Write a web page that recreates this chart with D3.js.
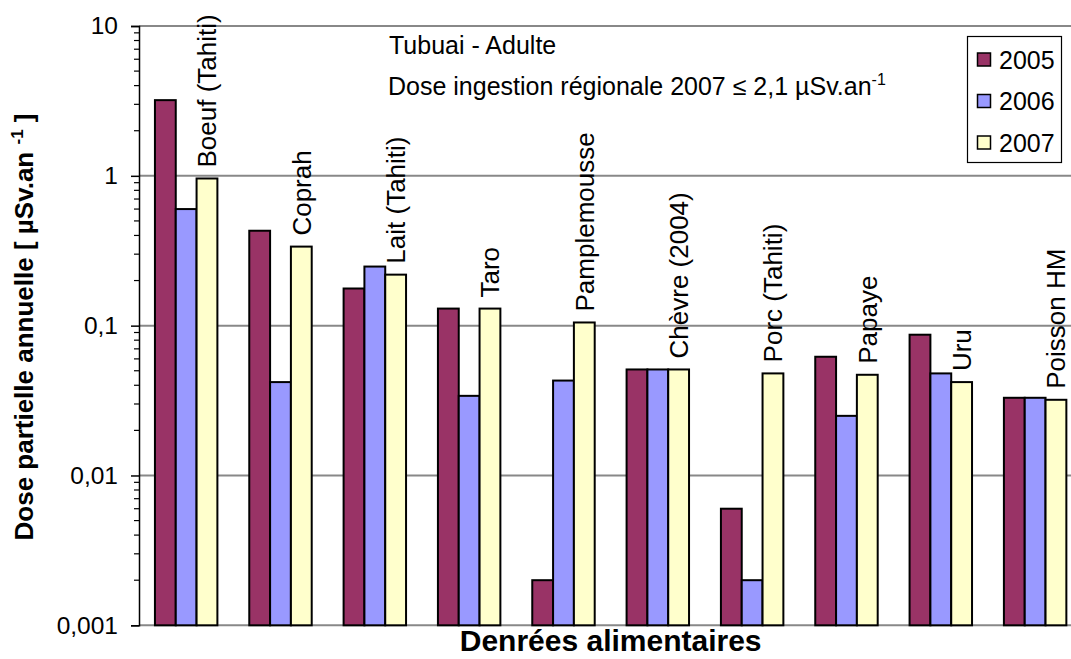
<!DOCTYPE html>
<html>
<head>
<meta charset="utf-8">
<script src="https://cdn.jsdelivr.net/npm/d3@7"></script>
<style>
  html, body { margin: 0; padding: 0; background: #fff; }
  svg { display: block; font-family: Arial, "Liberation Sans", sans-serif; }
</style>
</head>
<body>
<svg id="chart" width="1071" height="659"></svg>
<script>
const categories = ["Boeuf (Tahiti)", "Coprah", "Lait (Tahiti)", "Taro", "Pamplemousse", "Chèvre (2004)", "Porc (Tahiti)", "Papaye", "Uru", "Poisson HM"];
const seriesNames = ["2005", "2006", "2007"];
const values2005 = [3.2, 0.43, 0.177, 0.13, 0.002, 0.051, 0.006, 0.062, 0.087, 0.033];
const values2006 = [0.6, 0.042, 0.248, 0.034, 0.043, 0.051, 0.002, 0.025, 0.048, 0.033];
const values2007 = [0.96, 0.337, 0.219, 0.13, 0.105, 0.051, 0.048, 0.047, 0.042, 0.032];
const seriesColors = ["#993366", "#9999FF", "#FFFFCC"];
const yTickValues = [0.001, 0.01, 0.1, 1, 10];
const yTickLabels = ["0,001", "0,01", "0,1", "1", "10"];

const series = [values2005, values2006, values2007];
const svg = d3.select("#chart");

const plotLeft = 139, plotRight = 1082.3, plotTop = 26, plotBottom = 625.3;

const x = d3.scaleBand().domain(categories).range([plotLeft, plotRight])
  .paddingInner(0.338).paddingOuter(0.169);
const xs = d3.scaleBand().domain(seriesNames).range([0, x.bandwidth()]);
const y = d3.scaleLog().domain([0.001, 10]).range([plotBottom, plotTop]);

// gridlines
const grid = svg.append("g");
grid.selectAll("line").data(yTickValues).join("line")
  .attr("x1", plotLeft).attr("x2", 1071)
  .attr("y1", d => y(d)).attr("y2", d => y(d))
  .attr("stroke", "#888").attr("stroke-width", 2);

// bars
const groups = svg.append("g").selectAll("g").data(categories).join("g")
  .attr("transform", d => `translate(${x(d)},0)`);
groups.selectAll("rect")
  .data((c, i) => series.map((s, k) => ({ key: seriesNames[k], v: s[i], k })))
  .join("rect")
  .attr("x", d => xs(d.key))
  .attr("width", xs.bandwidth())
  .attr("y", d => y(d.v))
  .attr("height", d => plotBottom - y(d.v))
  .attr("fill", d => seriesColors[d.k])
  .attr("stroke", "#000").attr("stroke-width", 2);

// category labels above 2007 bars
svg.append("g").selectAll("text").data(categories).join("text")
  .attr("transform", (c, i) => {
    const cx = x(c) + xs("2007") + xs.bandwidth() / 2;
    const cy = y(values2007[i]) - 11;
    return `translate(${cx},${cy}) rotate(-90)`;
  })
  .attr("text-anchor", "start")
  .attr("dy", "0.36em")
  .attr("font-size", 26)
  .attr("fill", "#000")
  .text(d => d);

// y axis
const yAxis = d3.axisLeft(y)
  .tickValues(yTickValues)
  .tickFormat((d, i) => yTickLabels[i])
  .tickSize(8).tickPadding(13);
const ya = svg.append("g").attr("transform", `translate(${plotLeft},0)`).call(yAxis);
ya.select(".domain").attr("stroke", "#000").attr("stroke-width", 1.5);
ya.selectAll(".tick line").attr("stroke", "#000").attr("stroke-width", 1.5);
ya.selectAll(".tick text").attr("font-size", 24.5).attr("fill", "#000")
  .attr("font-family", "Arial, 'Liberation Sans', sans-serif");

// minor ticks
const minor = [];
[-3, -2, -1, 0].forEach(e => { for (let m = 2; m <= 9; m++) minor.push(m * Math.pow(10, e)); });
svg.append("g").selectAll("line").data(minor).join("line")
  .attr("x1", plotLeft - 5).attr("x2", plotLeft)
  .attr("y1", d => y(d)).attr("y2", d => y(d))
  .attr("stroke", "#000").attr("stroke-width", 1.2);

// axis titles
svg.append("text")
  .attr("x", (plotLeft + plotRight) / 2).attr("y", 651)
  .attr("text-anchor", "middle")
  .attr("font-size", 30).attr("font-weight", "bold")
  .text("Denrées alimentaires");

const yt = svg.append("text")
  .attr("transform", "translate(33,327) rotate(-90)")
  .attr("text-anchor", "middle")
  .attr("font-size", 26).attr("font-weight", "bold");
yt.append("tspan").text("Dose partielle annuelle [ µSv.an ");
yt.append("tspan").attr("dy", -10).attr("font-size", 17).text(" -1");
yt.append("tspan").attr("dy", 10).text("  ]");

// annotations
svg.append("text").attr("x", 389).attr("y", 54).attr("font-size", 25)
  .text("Tubuai - Adulte");
const ann = svg.append("text").attr("x", 388).attr("y", 95).attr("font-size", 25);
ann.append("tspan").text("Dose ingestion régionale 2007 ≤ 2,1 µSv.an");
ann.append("tspan").attr("dy", -10).attr("font-size", 16).text("-1");

// legend
const lg = svg.append("g");
lg.append("rect").attr("x", 967.5).attr("y", 36.5).attr("width", 94).attr("height", 126)
  .attr("fill", "#fff").attr("stroke", "#000").attr("stroke-width", 1.2);
const rowY = d3.scalePoint().domain(seriesNames).range([59.5, 142.5]);
const items = lg.selectAll("g").data(seriesNames).join("g")
  .attr("transform", d => `translate(0,${rowY(d)})`);
items.append("rect").attr("x", 977.5).attr("y", -6.5).attr("width", 13).attr("height", 13)
  .attr("fill", (d, i) => seriesColors[i]).attr("stroke", "#000").attr("stroke-width", 1.5);
items.append("text").attr("x", 999).attr("dy", "0.36em").attr("font-size", 25)
  .text(d => d);
</script>
</body>
</html>
